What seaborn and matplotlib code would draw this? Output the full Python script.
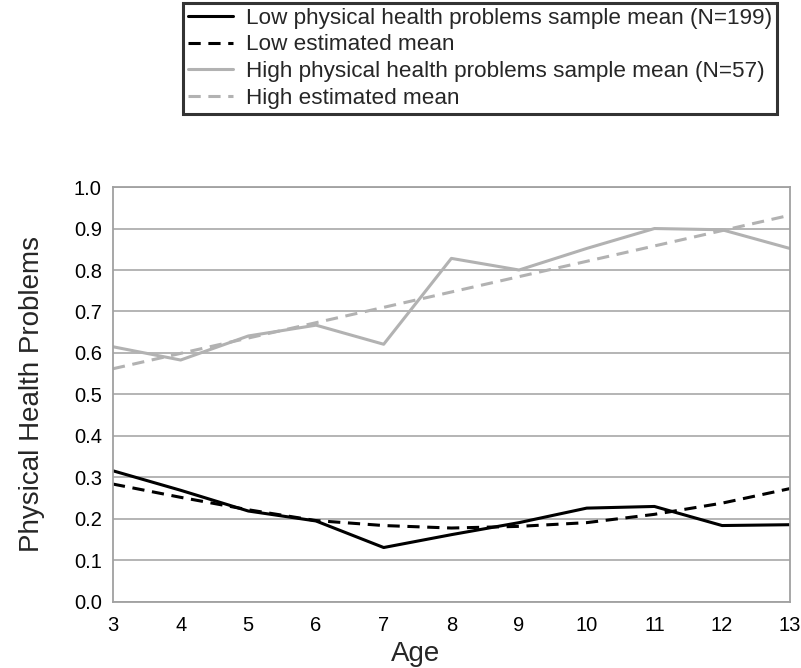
import matplotlib
matplotlib.use("Agg")
import matplotlib.pyplot as plt
import seaborn as sns
import pandas as pd
from matplotlib.lines import Line2D

ages = [3, 4, 5, 6, 7, 8, 9, 10, 11, 12, 13]
low_sample = [0.316, 0.269, 0.219, 0.195, 0.131, 0.162, 0.191, 0.226, 0.230, 0.184, 0.186]
low_est = [0.284, 0.252, 0.222, 0.196, 0.184, 0.178, 0.182, 0.191, 0.211, 0.238, 0.273]
high_sample = [0.615, 0.583, 0.641, 0.667, 0.621, 0.828, 0.800, 0.852, 0.900, 0.897, 0.852]
high_est = [0.562, 0.599, 0.636, 0.673, 0.710, 0.747, 0.784, 0.821, 0.858, 0.895, 0.932]
labels = ["Low physical health problems sample mean (N=199)",
          "Low estimated mean",
          "High physical health problems sample mean (N=57)",
          "High estimated mean"]
yticks = [0.0, 0.1, 0.2, 0.3, 0.4, 0.5, 0.6, 0.7, 0.8, 0.9, 1.0]

sns.set_theme(style="white")
plt.rcParams['font.family'] = ['Liberation Sans', 'DejaVu Sans']

fig = plt.figure(figsize=(8.01, 6.68), dpi=100)
ax = fig.add_axes([0.141, 0.099, 0.845, 0.621])

BLACK = "#000000"
GRAY = "#b2b2b2"
series = [
    (low_sample, BLACK, "-"),
    (low_est, BLACK, (0, (4, 2.5))),
    (high_sample, GRAY, "-"),
    (high_est, GRAY, (0, (4, 2.5))),
]
handles = []
for (vals, col, ls), lab in zip(series, labels):
    df = pd.DataFrame({"Age": ages, "v": vals})
    sns.lineplot(data=df, x="Age", y="v", ax=ax, color=col, linestyle=ls, lw=2.2)
    handles.append(Line2D([0], [0], color=col, linestyle=ls, lw=2.2))

ax.set_xlim(3, 13)
ax.set_ylim(0, 1.0)
ax.set_xticks(ages)
ax.set_yticks(yticks)
ax.set_yticklabels([f"{t:.1f}" for t in yticks])
ax.grid(axis="y", color="#a0a0a0", lw=1.1)
ax.set_axisbelow(True)
for s in ax.spines.values():
    s.set_color("#a0a0a0")
    s.set_linewidth(1.3)
ax.tick_params(axis="both", direction="out", length=4, width=1, color="#a0a0a0",
               labelsize=14.5, labelcolor="#000000", pad=4)
ax.tick_params(axis="x", pad=6)
ax.set_xlabel("Age", fontsize=20)
ax.xaxis.set_label_coords(0.447, -0.095)
ax.set_ylabel("Physical Health Problems", fontsize=20)
ax.yaxis.set_label_coords(-0.1, 0.5)

leg = fig.legend(handles, labels, loc="upper left", bbox_to_anchor=(0.228, 0.996),
                 frameon=True, fancybox=False, fontsize=16.2, handlelength=2.0,
                 borderpad=0.22, labelspacing=0.26, handletextpad=0.6,
                 borderaxespad=0.0)
leg.get_frame().set_edgecolor("#000000")
leg.get_frame().set_linewidth(2.2)

fig.savefig("out.png", dpi=100)
